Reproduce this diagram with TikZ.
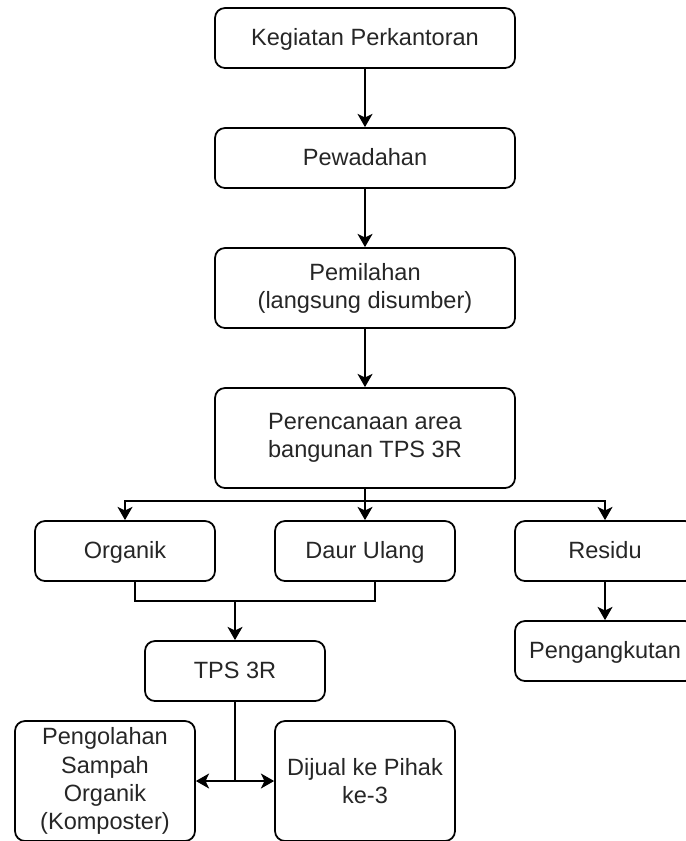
\documentclass[tikz,border=0pt]{standalone}
\usepackage{fontspec}
\setmainfont{Liberation Sans}
\usetikzlibrary{arrows.meta}

\begin{document}
\begin{tikzpicture}[line width=1pt,>={Stealth[length=7.5pt,width=8.5pt,inset=2pt]},
		box/.style={draw,rounded corners=0.2cm,align=center,inner sep=2pt,minimum height=1.2cm,text=black!85,font=\fontsize{13.4}{16}\selectfont},
		wide/.style={box,minimum width=6cm},
		small/.style={box,minimum width=3.6cm},
		one/.style={text height=11pt,text depth=3pt}]
		\useasboundingbox (0,0) rectangle (13.72,-16.82);
		\node[wide,one] (keg) at (7.3,-0.76) {Kegiatan Perkantoran};
		\node[wide,one] (pew) at (7.3,-3.16) {Pewadahan};
		\node[wide,minimum height=1.6cm] (pem) at (7.3,-5.76) {Pemilahan\\(langsung disumber)};
		\node[wide,minimum height=2cm] (ren) at (7.3,-8.76) {Perencanaan area\\bangunan TPS 3R};
		\node[small,one] (org) at (2.5,-11.02) {Organik};
		\node[small,one] (daur) at (7.3,-11.02) {Daur Ulang};
		\node[small,one] (res) at (12.1,-11.02) {Residu};
		\node[small,one] (tps) at (4.7,-13.42) {TPS 3R};
		\node[small,one] (ang) at (12.1,-13.02) {Pengangkutan};
		\node[small,minimum height=2.4cm] (olah) at (2.1,-15.62) {Pengolahan\\Sampah\\Organik\\(Komposter)};
		\node[small,minimum height=2.4cm] (jual) at (7.3,-15.62) {Dijual ke Pihak\\ke-3};
		\coordinate (cab) at (7.3,-10.02);
		\coordinate (gab) at (4.7,-12.02);
		\coordinate (bagi) at (4.7,-15.62);
		\draw[->] (keg) -- (pew);
		\draw[->] (pew) -- (pem);
		\draw[->] (pem) -- (ren);
		\draw (ren) -- (cab);
		\draw[->] (cab) -| (org);
		\draw[->] (cab) -- (daur);
		\draw[->] (cab) -| (res);
		\draw ([xshift=0.2cm]org.south) |- ([xshift=0.2cm]daur.south |- gab) -- ([xshift=0.2cm]daur.south);
		\draw[->] (gab) -- (tps);
		\draw[->] (res) -- (ang);
		\draw (tps) -- (bagi);
		\draw[->] (bagi) -- (olah);
		\draw[->] (bagi) -- (jual);
		\end{tikzpicture}
\end{document}
